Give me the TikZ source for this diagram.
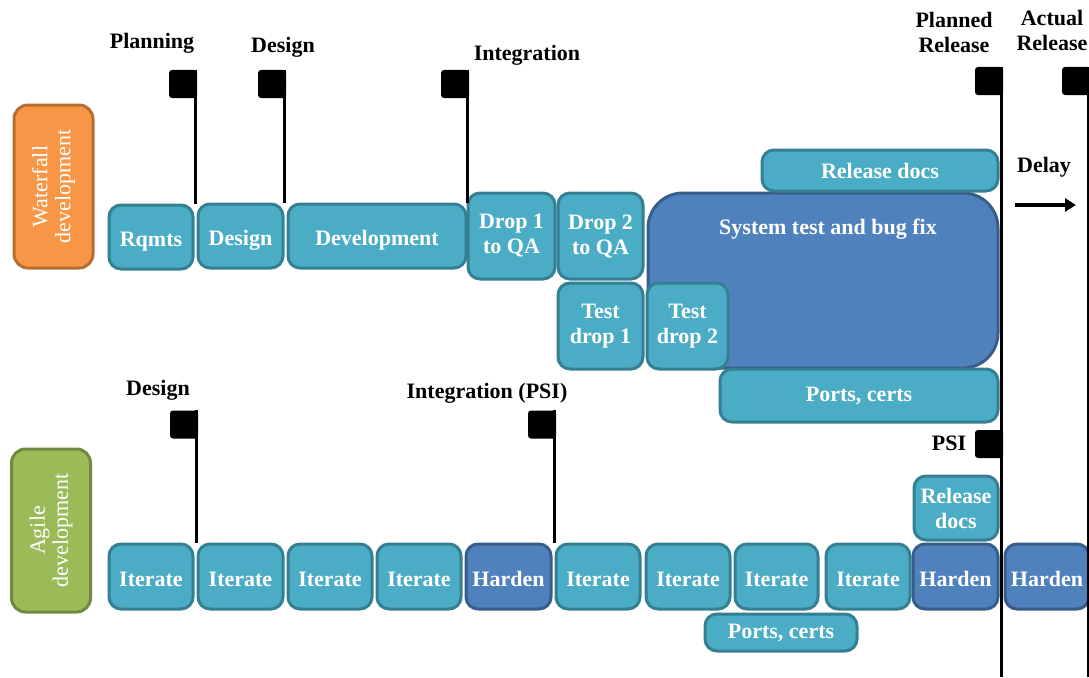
\documentclass[tikz,border=0pt]{standalone}
\usepackage{fontspec}
\setmainfont{Liberation Serif}
\usetikzlibrary{arrows.meta, calc}
\definecolor{taskfill}{HTML}{4BACC6}
\definecolor{taskline}{HTML}{357F93}
\definecolor{hardfill}{HTML}{4F81BD}
\definecolor{hardline}{HTML}{385D8A}
\definecolor{wfill}{HTML}{F79646}
\definecolor{wline}{HTML}{B66D31}
\definecolor{afill}{HTML}{9BBB59}
\definecolor{aline}{HTML}{71893F}

\begin{document}
\begin{tikzpicture}[x=1pt, y=-1pt,
  every node/.style={font=\fontsize{22}{25}\selectfont\bfseries, align=center, inner sep=0pt},
  task/.style={draw=taskline, fill=taskfill, line width=3pt, rounded corners=12pt, text=white},
  harden/.style={task, draw=hardline, fill=hardfill},
  oneline/.style={text height=19pt, text depth=0pt},
  phase/.style={line width=3pt, rounded corners=14pt, text=white, rotate=90,
    font=\fontsize{22}{23}\selectfont, minimum width=163, minimum height=79},
  flag/.style={fill=black, rounded corners=3pt, minimum size=28},
  pole/.style={line width=3pt}]
\useasboundingbox (0,0) rectangle (1089,677);
\coordinate (bot) at (0,677);

% phase labels
\node[phase, draw=wline, fill=wfill] (wf) at (53.5,186.5) {Waterfall\\development};
\node[phase, draw=aline, fill=afill] (ag) at (51,530.5) {Agile\\development};

% waterfall
\node[harden, minimum width=350, minimum height=175, rounded corners=35pt] (w9) at (823,280.5) {};
\node[text=white] (w9t) at (828,229) {System test and bug fix};
\node[task, oneline, minimum width=84, minimum height=64] (w1) at (151,237) {Rqmts};
\node[task, oneline, minimum width=85, minimum height=64] (w2) at (240.5,236) {Design};
\node[task, oneline, minimum width=178, minimum height=64] (w3) at (377,236) {Development};
\node[task, minimum width=87, minimum height=86] (w4) at (511.5,236) {Drop 1\\to QA};
\node[task, minimum width=85, minimum height=86] (w5) at (600.5,236) {Drop 2\\to QA};
\node[task, minimum width=85, minimum height=86] (w6) at (600.5,326) {Test\\drop 1};
\node[task, minimum width=81, minimum height=86] (w7) at (687.5,326) {Test\\drop 2};
\node[task, minimum width=236, minimum height=41] (w8) at (880,170.5) {Release docs};
\node[task, minimum width=278, minimum height=53] (w10) at (859,395.5) {Ports, certs};

% agile
\node[task, oneline, minimum width=84, minimum height=65] (a1) at (151,576.5) {Iterate};
\node[task, oneline, minimum width=85, minimum height=65] (a2) at (240.5,576.5) {Iterate};
\node[task, oneline, minimum width=84, minimum height=65] (a3) at (330,576.5) {Iterate};
\node[task, oneline, minimum width=84, minimum height=65] (a4) at (419,576.5) {Iterate};
\node[harden, oneline, minimum width=85, minimum height=65] (a5) at (508.5,576.5) {Harden};
\node[task, oneline, minimum width=84, minimum height=65] (a6) at (598,576.5) {Iterate};
\node[task, oneline, minimum width=84, minimum height=65] (a7) at (688,576.5) {Iterate};
\node[task, oneline, minimum width=83, minimum height=65] (a8) at (776.5,576.5) {Iterate};
\node[task, oneline, minimum width=84, minimum height=65] (a9) at (868,576.5) {Iterate};
\node[harden, oneline, minimum width=85, minimum height=65] (a10) at (955.5,576.5) {Harden};
\node[harden, oneline, minimum width=84, minimum height=65] (a11) at (1047,576.5) {Harden};
\node[task, minimum width=84, minimum height=64] (a12) at (956,508) {Release\\docs};
\node[task, minimum width=152, minimum height=37] (a13) at (781,632.5) {Ports, certs};

% milestones
\node (l1) at (152,43) {Planning};
\node (l2) at (283,47) {Design};
\node (l3) at (527,55) {Integration};
\node (l4) at (954,32) {Planned\\Release};
\node (l5) at (1052,30) {Actual\\Release};
\node (l6) at (158,390) {Design};
\node (l7) at (487,393) {Integration (PSI)};
\node (l8) at (949,443) {PSI};
\node (l9) at (1044,167) {Delay};

\node[flag] (f1) at (183,84) {};
\node[flag] (f2) at (272,84) {};
\node[flag] (f3) at (455,84) {};
\node[flag] (f4) at (989,81) {};
\node[flag] (f5) at (1076,81) {};
\node[flag] (f6) at (184,424.5) {};
\node[flag] (f7) at (542,424.5) {};
\node[flag] (f8) at (989,444) {};

\draw[pole] ($(f1.north east)+(-1.5,0)$) -- ($(f1.north east |- w1.north)+(-1.5,0)$);
\draw[pole] ($(f2.north east)+(-1.5,0)$) -- ($(f2.north east |- w2.north)+(-1.5,0)$);
\draw[pole] ($(f3.north east)+(-1.5,0)$) -- ($(f3.north east |- w3.north)+(-1.5,0)$);
\draw[pole] ($(f4.north east)+(-1.5,0)$) -- ($(f4.north east |- bot)+(-1.5,0)$);
\draw[pole] ($(f5.north east)+(-1.5,0)$) -- ($(f5.north east |- bot)+(-1.5,0)$);
\draw[pole] ($(f6.north east)+(-1.5,0)$) -- ($(f6.north east |- a1.north)+(-1.5,0)$);
\draw[pole] ($(f7.north east)+(-1.5,0)$) -- ($(f7.north east |- a5.north)+(-1.5,0)$);

\coordinate (d1) at (1015,205);
\coordinate (d2) at (1076,205);
\draw[line width=4pt, -{Triangle[length=11pt, width=13pt]}] (d1) -- (d2);
\end{tikzpicture}
\end{document}
